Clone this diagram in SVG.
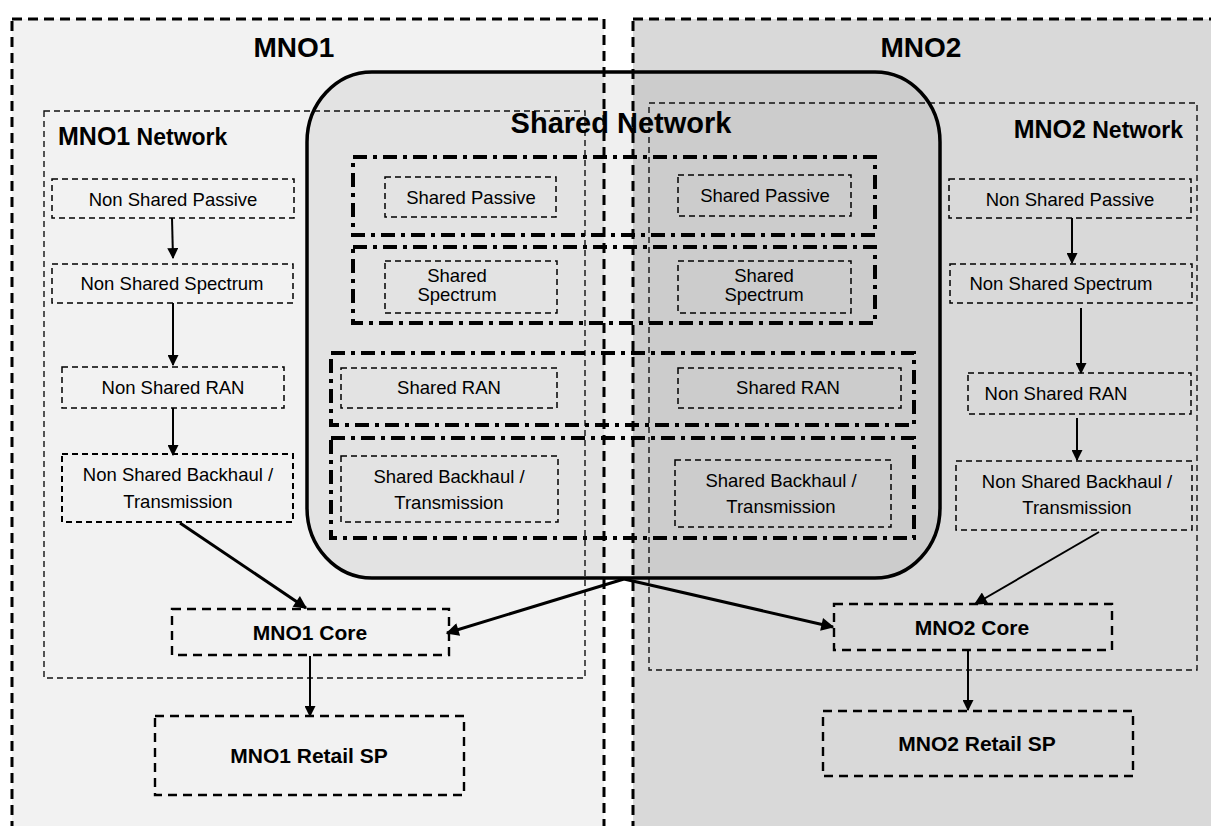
<svg xmlns="http://www.w3.org/2000/svg" width="1211" height="826" viewBox="0 0 1211 826">
<defs>
<style>
text{font-family:"Liberation Sans",Arial,sans-serif;fill:#000;}
.t{font-size:18.5px;text-anchor:middle;}
.tb{font-size:21px;font-weight:bold;text-anchor:middle;}
.title{font-size:28px;font-weight:bold;text-anchor:middle;}
.outer{stroke:#000;stroke-width:3;stroke-dasharray:10 6;}
.net{fill:none;stroke:#111;stroke-width:1.4;stroke-dasharray:6 4;}
.node{fill:none;stroke:#000;stroke-width:1.5;stroke-dasharray:6 4;}
.node2{fill:none;stroke:#000;stroke-width:2;stroke-dasharray:6 4;}
.core{fill:none;stroke:#000;stroke-width:2.4;stroke-dasharray:9 6;}
.row{fill:none;stroke:#000;stroke-width:4;stroke-dasharray:14 6 4 6;}
.c{fill:none;stroke:#000;stroke-width:2;}
.ck{fill:none;stroke:#000;stroke-width:3;}
</style>
<marker id="ah" viewBox="0 0 10 10" refX="9" refY="5" markerWidth="11" markerHeight="11" markerUnits="userSpaceOnUse" orient="auto"><path d="M0,0 L10,5 L0,10 z" fill="#000"/></marker>
<marker id="ahk" viewBox="0 0 10 10" refX="9" refY="5" markerWidth="14" markerHeight="13" markerUnits="userSpaceOnUse" orient="auto"><path d="M0,0 L10,5 L0,10 z" fill="#000"/></marker>
</defs>
<rect width="1211" height="826" fill="#fff"/>

<g id="mno1">
<rect class="outer" x="12" y="19" width="592" height="830" fill="#f2f2f2"/>
<text class="title" x="294" y="57">MNO1</text>
</g>
<g id="mno2">
<rect class="outer" x="633" y="19" width="600" height="830" fill="#d9d9d9"/>
<text class="title" x="921" y="57">MNO2</text>
</g>

<g id="mno1-network">
<rect class="net" x="44" y="111" width="541" height="567"/>
<text x="58" y="145"><tspan font-size="25" font-weight="bold">MNO1</tspan><tspan font-size="23" font-weight="bold"> Network</tspan></text>
</g>
<g id="mno2-network">
<rect class="net" x="649" y="103" width="548" height="567"/>
<text x="1183" y="138" text-anchor="end"><tspan font-size="25" font-weight="bold">MNO2</tspan><tspan font-size="23" font-weight="bold"> Network</tspan></text>
</g>

<g id="shared-network">
<rect x="307" y="72" width="633" height="506" rx="65" ry="70" fill="#000" fill-opacity="0.06" stroke="#000" stroke-width="3.5"/>
<text x="621" y="133" font-size="29" font-weight="bold" text-anchor="middle">Shared Network</text>
</g>

<g id="shared-rows">
<rect id="row-passive" class="row" x="353" y="157" width="522" height="78"/>
<rect id="row-spectrum" class="row" x="353" y="247" width="522" height="76"/>
<rect id="row-ran" class="row" x="331" y="353" width="583" height="72"/>
<rect id="row-backhaul" class="row" x="331" y="438" width="583" height="100"/>
</g>

<g id="shared-passive-1"><rect class="node" x="385" y="177" width="171" height="40"/><text class="t" x="471" y="204">Shared Passive</text></g>
<g id="shared-passive-2"><rect class="node" x="678" y="175" width="173" height="41"/><text class="t" x="765" y="202">Shared Passive</text></g>
<g id="shared-spectrum-1"><rect class="node" x="385" y="261" width="172" height="52"/><text class="t" x="457" y="282">Shared</text><text class="t" x="457" y="301">Spectrum</text></g>
<g id="shared-spectrum-2"><rect class="node" x="678" y="261" width="173" height="52"/><text class="t" x="764" y="282">Shared</text><text class="t" x="764" y="301">Spectrum</text></g>
<g id="shared-ran-1"><rect class="node" x="341" y="368" width="216" height="40"/><text class="t" x="449" y="394">Shared RAN</text></g>
<g id="shared-ran-2"><rect class="node" x="678" y="368" width="223" height="40"/><text class="t" x="788" y="394">Shared RAN</text></g>
<g id="shared-backhaul-1"><rect class="node" x="341" y="456" width="217" height="66"/><text class="t" x="449" y="483">Shared Backhaul /</text><text class="t" x="449" y="509">Transmission</text></g>
<g id="shared-backhaul-2"><rect class="node" x="675" y="460" width="216" height="67"/><text class="t" x="781" y="487">Shared Backhaul /</text><text class="t" x="781" y="513">Transmission</text></g>

<g id="l-passive"><rect class="node" x="52" y="179" width="242" height="39"/><text class="t" x="173" y="206">Non Shared Passive</text></g>
<g id="l-spectrum"><rect class="node" x="52" y="264" width="241" height="39"/><text class="t" x="172" y="290">Non Shared Spectrum</text></g>
<g id="l-ran"><rect class="node" x="62" y="367" width="222" height="41"/><text class="t" x="173" y="394">Non Shared RAN</text></g>
<g id="l-backhaul"><rect class="node2" x="62" y="454" width="231" height="68"/><text class="t" x="178" y="481">Non Shared Backhaul /</text><text class="t" x="178" y="508">Transmission</text></g>

<g id="r-passive"><rect class="node" x="949" y="179" width="242" height="39"/><text class="t" x="1070" y="206">Non Shared Passive</text></g>
<g id="r-spectrum"><rect class="node" x="950" y="264" width="242" height="39"/><text class="t" x="1061" y="290">Non Shared Spectrum</text></g>
<g id="r-ran"><rect class="node" x="968" y="373" width="223" height="41"/><text class="t" x="1056" y="400">Non Shared RAN</text></g>
<g id="r-backhaul"><rect class="node" x="956" y="461" width="236" height="69"/><text class="t" x="1077" y="488">Non Shared Backhaul /</text><text class="t" x="1077" y="514">Transmission</text></g>

<g id="mno1-core"><rect class="core" x="172" y="609" width="277" height="46"/><text class="tb" x="310" y="640">MNO1 Core</text></g>
<g id="mno1-retail"><rect class="core" x="155" y="716" width="309" height="79"/><text class="tb" x="309" y="763">MNO1 Retail SP</text></g>
<g id="mno2-core"><rect class="core" x="834" y="604" width="278" height="46"/><text class="tb" x="972" y="635">MNO2 Core</text></g>
<g id="mno2-retail"><rect class="core" x="823" y="711" width="310" height="65"/><text class="tb" x="977" y="751">MNO2 Retail SP</text></g>

<g id="connectors">
<line class="c" x1="172" y1="218" x2="173" y2="258" marker-end="url(#ah)"/>
<line class="c" x1="173" y1="303" x2="173" y2="365" marker-end="url(#ah)"/>
<line class="c" x1="173" y1="408" x2="173" y2="455" marker-end="url(#ah)"/>
<line class="ck" x1="180" y1="523" x2="306" y2="608" marker-end="url(#ahk)"/>
<line class="ck" x1="624" y1="579" x2="447" y2="633" marker-end="url(#ahk)"/>
<line class="c" x1="310" y1="656" x2="310" y2="716" marker-end="url(#ah)"/>
<line class="c" x1="1072" y1="218" x2="1072" y2="263" marker-end="url(#ah)"/>
<line class="c" x1="1081" y1="308" x2="1081" y2="373" marker-end="url(#ah)"/>
<line class="c" x1="1077" y1="418" x2="1077" y2="460" marker-end="url(#ah)"/>
<line class="c" x1="1099" y1="532" x2="975" y2="604" marker-end="url(#ahk)"/>
<line class="ck" x1="624" y1="579" x2="833" y2="627" marker-end="url(#ahk)"/>
<line class="c" x1="968" y1="651" x2="968" y2="710" marker-end="url(#ah)"/>
</g>
</svg>
